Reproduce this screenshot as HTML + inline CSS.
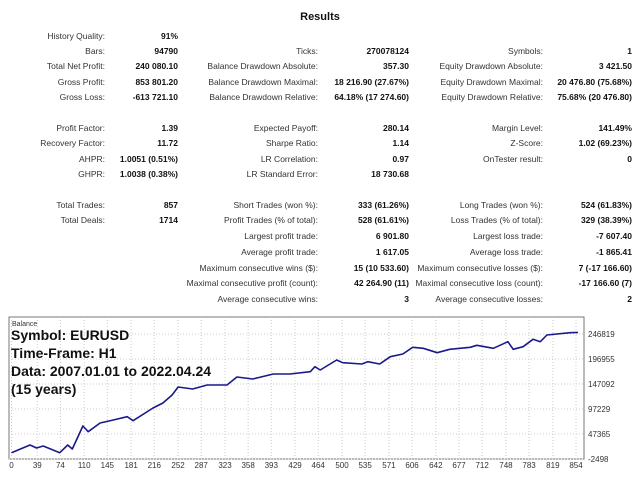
<!DOCTYPE html>
<html><head><meta charset="utf-8">
<style>
body{margin:0;width:640px;height:480px;background:#fff;position:relative;overflow:hidden;font-family:"Liberation Sans",Tahoma,sans-serif;}
.t{position:absolute;font-size:8.5px;white-space:nowrap;line-height:10px;}
.l{color:#333;}
.v{color:#111;font-weight:bold;}
#title{position:absolute;left:0;width:640px;top:11px;text-align:center;font-weight:bold;font-size:11px;color:#111;}
</style></head><body>
<div id="title">Results</div>
<div id="stats"></div>
<svg id="chart" width="640" height="480" style="position:absolute;left:0;top:0"></svg>
<script>
const rows=[
[36,"History Quality:","91%","","","",""],
[51,"Bars:","94790","Ticks:","270078124","Symbols:","1"],
[66,"Total Net Profit:","240 080.10","Balance Drawdown Absolute:","357.30","Equity Drawdown Absolute:","3 421.50"],
[82,"Gross Profit:","853 801.20","Balance Drawdown Maximal:","18 216.90 (27.67%)","Equity Drawdown Maximal:","20 476.80 (75.68%)"],
[97,"Gross Loss:","-613 721.10","Balance Drawdown Relative:","64.18% (17 274.60)","Equity Drawdown Relative:","75.68% (20 476.80)"],
[128,"Profit Factor:","1.39","Expected Payoff:","280.14","Margin Level:","141.49%"],
[143,"Recovery Factor:","11.72","Sharpe Ratio:","1.14","Z-Score:","1.02 (69.23%)"],
[159,"AHPR:","1.0051 (0.51%)","LR Correlation:","0.97","OnTester result:","0"],
[174,"GHPR:","1.0038 (0.38%)","LR Standard Error:","18 730.68","",""],
[205,"Total Trades:","857","Short Trades (won %):","333 (61.26%)","Long Trades (won %):","524 (61.83%)"],
[220,"Total Deals:","1714","Profit Trades (% of total):","528 (61.61%)","Loss Trades (% of total):","329 (38.39%)"],
[236,"","","Largest profit trade:","6 901.80","Largest loss trade:","-7 607.40"],
[252,"","","Average profit trade:","1 617.05","Average loss trade:","-1 865.41"],
[268,"","","Maximum consecutive wins ($):","15 (10 533.60)","Maximum consecutive losses ($):","7 (-17 166.60)"],
[283,"","","Maximal consecutive profit (count):","42 264.90 (11)","Maximal consecutive loss (count):","-17 166.60 (7)"],
[299,"","","Average consecutive wins:","3","Average consecutive losses:","2"]];
const rights=[105,178,318,409,543,632];
const st=document.getElementById('stats');
rows.forEach(r=>{for(let c=0;c<6;c++){const txt=r[c+1];if(!txt)continue;
const d=document.createElement('div');d.className='t '+(c%2?'v':'l');


d.textContent=txt;d.style.right=(640-rights[c])+'px';d.style.top=(r[0]-5)+'px';st.appendChild(d);}});
</script>
<script>
const tradeIdx=[0,28,38,48,73,85,92,108,116,134,154,175,184,214,229,243,252,274,296,326,341,365,396,421,452,459,467,492,501,530,539,557,573,592,607,623,644,663,694,704,729,751,759,774,789,800,810,845,857];
const balance=[10000,25425,19442,23431,10067,25425,17447,63321,51952,69304,75288,81869,73891,99222,109194,125150,141106,137117,145095,145095,161051,157062,167035,167035,171622,181594,175013,194958,189572,186980,191567,186980,201539,206925,220288,218293,209517,216299,220288,224277,218293,231457,216299,221484,236244,231457,244820,249407,250080];
const xTicks=[0,39,74,110,145,181,216,252,287,323,358,393,429,464,500,535,571,606,642,677,712,748,783,819,854];
const yTicks=[-2498,47365,97229,147092,196955,246819];
const L=9,T=317,R=584,B=459;
const X=i=>11.5+i*(576-11.5)/854;
const Y=v=>459-(v+2498)/(49863.5)*25;
const svg=document.getElementById('chart');const NS='http://www.w3.org/2000/svg';
function mk(t,a){const e=document.createElementNS(NS,t);for(const k in a)e.setAttribute(k,a[k]);svg.appendChild(e);return e;}
const bg=mk('rect',{x:L,y:T,width:R-L,height:B-T,fill:'#fff',stroke:'#777','stroke-width':1});


xTicks.forEach(t=>{const g=mk('line',{x1:X(t),x2:X(t),y1:T,y2:B,stroke:'#ccc','stroke-dasharray':'1,2'});


const tx=mk('text',{x:X(t),y:468,'font-size':8,'text-anchor':'middle',fill:'#333','font-family':'Liberation Sans, sans-serif'});tx.textContent=t;

});
yTicks.forEach(t=>{const g=mk('line',{x1:L,x2:R,y1:Y(t),y2:Y(t),stroke:'#ccc','stroke-dasharray':'1,2'});


const tx=mk('text',{x:588,y:Y(t)+3,'font-size':8,fill:'#333','font-family':'Liberation Sans, sans-serif'});tx.textContent=t;

});
const pts=tradeIdx.map((t,i)=>X(t).toFixed(1)+','+Y(balance[i]).toFixed(1)).join(' ');
const pl=mk('polyline',{points:pts,fill:'none',stroke:'#1a1a8c','stroke-width':1.6,'stroke-linejoin':'round'});


const bl=mk('text',{x:12,y:326,'font-size':7,fill:'#333','font-family':'Liberation Sans, sans-serif'});bl.textContent='Balance';


['Symbol: EURUSD','Time-Frame: H1','Data: 2007.01.01 to 2022.04.24','(15 years)'].forEach((s,i)=>{
const tx=mk('text',{x:11,y:340+i*18,'font-size':14,'font-weight':'bold',fill:'#111','font-family':'Liberation Sans, sans-serif'});tx.textContent=s;

});
</script>
</body></html>
